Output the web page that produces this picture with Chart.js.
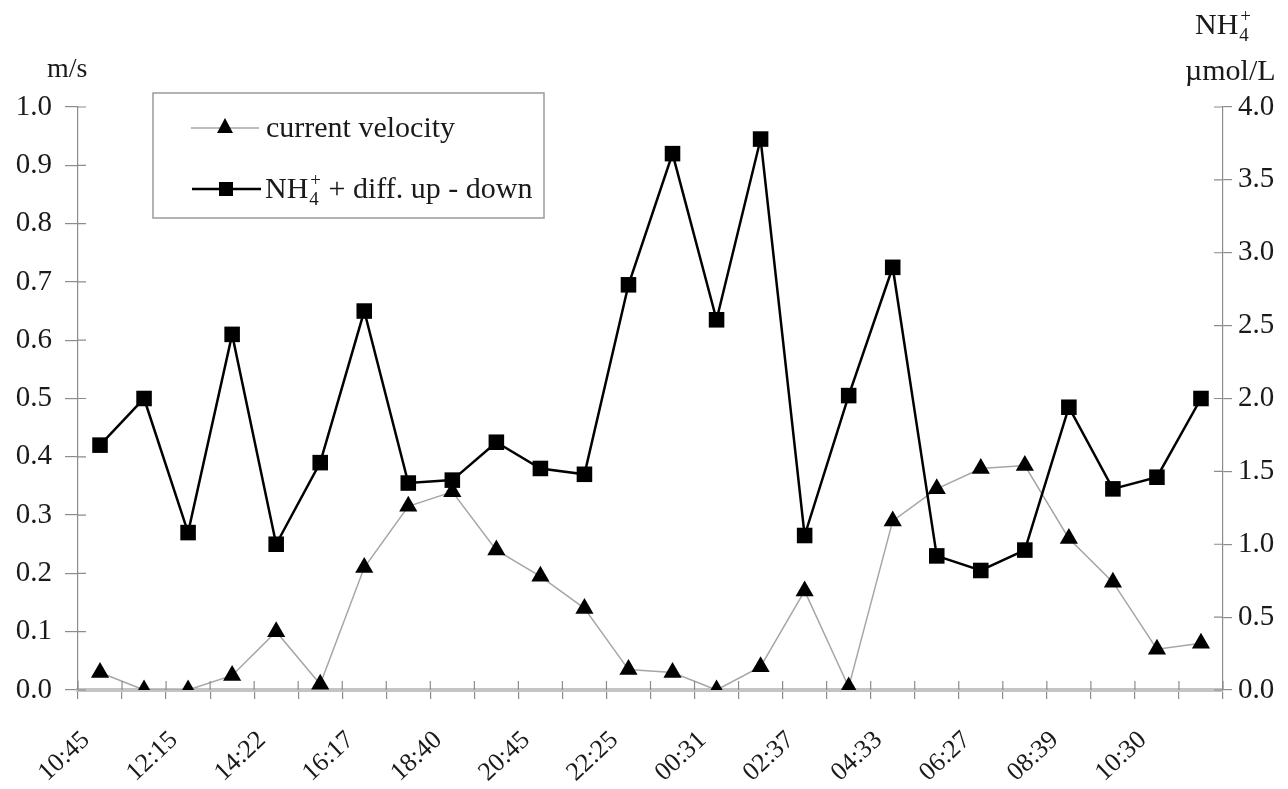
<!DOCTYPE html>
<html>
<head>
<meta charset="utf-8">
<script src="https://cdn.jsdelivr.net/npm/chart.js@4/dist/chart.umd.min.js"></script>
<style>
  html, body { margin: 0; padding: 0; background: #fff; }
  #wrap { width: 1288px; height: 789px; position: relative; }
</style>
</head>
<body>
<div id="wrap"><canvas id="chart"></canvas></div>
<script>
// Sampling times (only every second sample is labelled on the axis)
const sampleTimes = [
  '10:45', '', '12:15', '', '14:22', '', '16:17', '', '18:40', '', '20:45', '', '22:25',
  '', '00:31', '', '02:37', '', '04:33', '', '06:27', '', '08:39', '', '10:30', ''
];

// Current velocity, m/s (left axis)
const velocity = [
  0.03, 0.0, 0.0, 0.025, 0.10, 0.01, 0.21, 0.315, 0.34, 0.24, 0.195, 0.14, 0.035,
  0.03, 0.0, 0.04, 0.17, 0.005, 0.29, 0.345, 0.38, 0.385, 0.26, 0.185, 0.07, 0.08
];

// NH4+ difference up - down, umol/L (right axis)
const ammonium = [
  1.68, 2.0, 1.08, 2.44, 1.0, 1.56, 2.6, 1.42, 1.44, 1.7, 1.52, 1.48, 2.78,
  3.68, 2.54, 3.78, 1.06, 2.02, 2.9, 0.92, 0.82, 0.96, 1.94, 1.38, 1.46, 2.0
];

const leftTicks = [0, 0.1, 0.2, 0.3, 0.4, 0.5, 0.6, 0.7, 0.8, 0.9, 1.0];
const rightTicks = [0, 0.5, 1.0, 1.5, 2.0, 2.5, 3.0, 3.5, 4.0];

const FONT = '"Liberation Serif", "DejaVu Serif", serif';
const TEXT = '#1a1a1a';
const AXIS = '#8c8c8c';

// NH4+ with subscript 4 and superscript +, left-aligned at x, baseline y
function drawNH4(ctx, x, y, size) {
  ctx.textAlign = 'left';
  ctx.textBaseline = 'alphabetic';
  ctx.font = size + 'px ' + FONT;
  ctx.fillText('NH', x, y);
  let w = ctx.measureText('NH').width;
  ctx.font = Math.round(size * 0.62) + 'px ' + FONT;
  ctx.fillText('4', x + w + 1, y + size * 0.22);
  ctx.fillText('+', x + w + 2, y - size * 0.4);
  return w + 2 + ctx.measureText('+').width;
}

// Legend box, unit labels and the inner halves of the axis ticks
const decorations = {
  id: 'decorations',
  afterDraw(chart) {
    const ctx = chart.ctx;
    const yL = chart.scales.y, yR = chart.scales.y1, x = chart.scales.x;
    ctx.save();

    // inner tick stubs so the ticks cross the axis lines
    ctx.strokeStyle = AXIS;
    ctx.lineWidth = 1.2;
    ctx.beginPath();
    leftTicks.forEach(v => {
      const py = yL.getPixelForValue(v);
      ctx.moveTo(yL.right, py); ctx.lineTo(yL.right + 8, py);
    });
    rightTicks.forEach(v => {
      const py = yR.getPixelForValue(v);
      ctx.moveTo(yR.left, py); ctx.lineTo(yR.left - 9, py);
    });
    for (let i = 0; i <= sampleTimes.length; i++) {
      const px = x.getPixelForValue(i - 0.5);
      ctx.moveTo(px, x.top); ctx.lineTo(px, x.top - 9);
    }
    ctx.stroke();

    // unit labels
    ctx.fillStyle = TEXT;
    ctx.textAlign = 'left';
    ctx.textBaseline = 'alphabetic';
    ctx.font = '28px ' + FONT;
    ctx.fillText('m/s', 47, 77);
    ctx.font = '30px ' + FONT;
    ctx.fillText('\u00b5mol/L', 1185, 80);
    drawNH4(ctx, 1195, 34, 30);

    // legend
    const bx = 153, by = 93, bw = 391, bh = 125;
    ctx.strokeStyle = '#9a9a9a';
    ctx.lineWidth = 1.5;
    ctx.strokeRect(bx, by, bw, bh);

    ctx.strokeStyle = '#a6a6a6';
    ctx.lineWidth = 1.5;
    ctx.beginPath(); ctx.moveTo(191, 128); ctx.lineTo(259, 128); ctx.stroke();
    ctx.fillStyle = '#000';
    ctx.beginPath();
    ctx.moveTo(225, 118); ctx.lineTo(233, 133); ctx.lineTo(217, 133); ctx.closePath();
    ctx.fill();

    ctx.strokeStyle = '#000';
    ctx.lineWidth = 2.5;
    ctx.beginPath(); ctx.moveTo(192, 189); ctx.lineTo(261, 189); ctx.stroke();
    ctx.fillRect(219, 182, 14, 14);

    ctx.fillStyle = TEXT;
    ctx.font = '30px ' + FONT;
    ctx.textAlign = 'left';
    ctx.textBaseline = 'alphabetic';
    ctx.fillText('current velocity', 266, 137);
    const w = drawNH4(ctx, 265, 198, 30);
    ctx.font = '30px ' + FONT;
    ctx.fillText(' + diff. up - down', 265 + w, 198);

    ctx.restore();
  }
};

new Chart(document.getElementById('chart'), {
  type: 'line',
  data: {
    labels: sampleTimes,
    datasets: [
      {
        label: 'NH4+ + diff. up - down',
        data: ammonium,
        yAxisID: 'y1',
        borderColor: '#000',
        borderWidth: 2.5,
        pointStyle: 'rect',
        pointRadius: 11,
        pointBackgroundColor: '#000',
        pointBorderWidth: 0,
        tension: 0,
        order: 0
      },
      {
        label: 'current velocity',
        data: velocity,
        yAxisID: 'y',
        borderColor: '#a6a6a6',
        borderWidth: 1.5,
        pointStyle: 'triangle',
        pointRadius: 10.5,
        pointBackgroundColor: '#000',
        pointBorderWidth: 0,
        tension: 0,
        order: 1
      }
    ]
  },
  options: {
    responsive: true,
    maintainAspectRatio: false,
    animation: false,
    layout: { padding: { top: 107, left: 0, right: 0, bottom: 0 } },
    plugins: {
      legend: { display: false },
      tooltip: { enabled: false }
    },
    scales: {
      x: {
        offset: true,
        grid: {
          offset: true,
          drawOnChartArea: false,
          color: AXIS,
          tickLength: 9,
          lineWidth: 1.2
        },
        border: { color: '#c4c4c4', width: 4 },
        ticks: {
          autoSkip: false,
          maxRotation: 43,
          minRotation: 43,
          padding: 26,
          labelOffset: -14,
          color: TEXT,
          font: { family: FONT, size: 26 }
        },
        afterFit: s => { s.height = 99; }
      },
      y: {
        position: 'left',
        min: 0,
        max: 1.0,
        afterBuildTicks: s => { s.ticks = leftTicks.map(v => ({ value: v })); },
        grid: { drawOnChartArea: false, color: AXIS, tickLength: 13, lineWidth: 1.2 },
        border: { color: AXIS, width: 1.2 },
        ticks: {
          color: TEXT,
          padding: 13,
          font: { family: FONT, size: 29 },
          callback: v => v.toFixed(1)
        },
        afterFit: s => { s.width = 78; }
      },
      y1: {
        position: 'right',
        min: 0,
        max: 4.0,
        afterBuildTicks: s => { s.ticks = rightTicks.map(v => ({ value: v })); },
        grid: { drawOnChartArea: false, color: AXIS, tickLength: 9, lineWidth: 1.2 },
        border: { color: AXIS, width: 1.2 },
        ticks: {
          color: TEXT,
          padding: 6,
          font: { family: FONT, size: 29 },
          callback: v => v.toFixed(1)
        },
        afterFit: s => { s.width = 65; }
      }
    }
  },
  plugins: [decorations]
});
</script>
</body>
</html>
